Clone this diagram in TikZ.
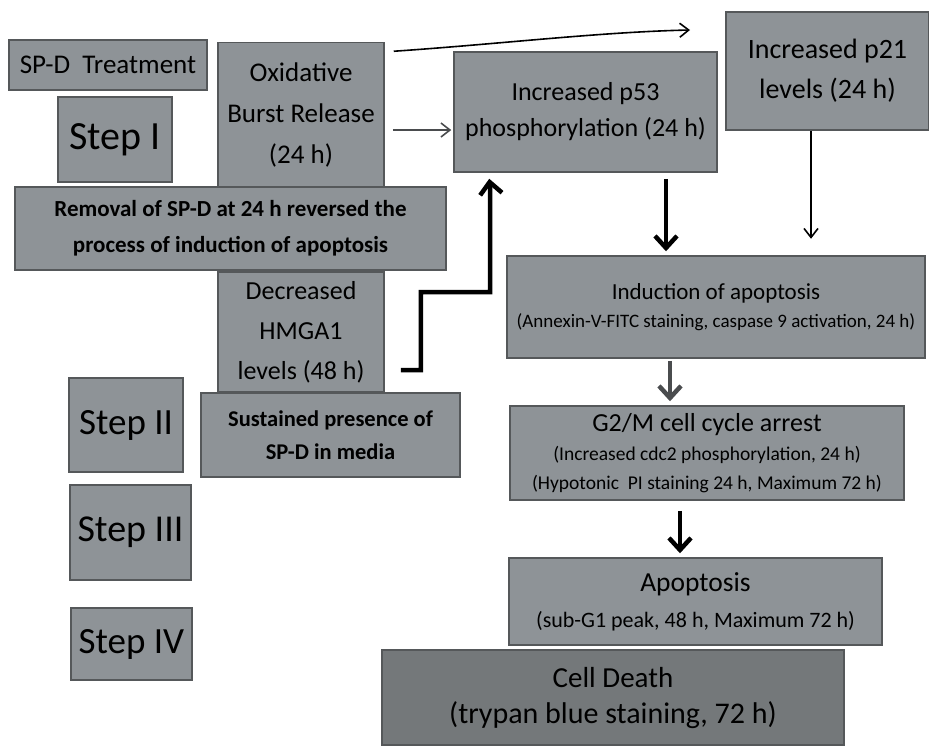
\documentclass[tikz,border=0pt]{standalone}
\usepackage{fontspec}
\setmainfont{Carlito}
\usetikzlibrary{arrows.meta,calc}
\definecolor{boxfill}{HTML}{8E9397}
\definecolor{boxdark}{HTML}{74787A}
\definecolor{edge}{HTML}{55585A}
\definecolor{arrgray}{HTML}{4A4C4E}
\tikzset{
  box/.style={draw=edge, line width=1.5pt, fill=boxfill, inner sep=2pt, align=center, text=black},
  darkbox/.style={box, fill=boxdark},
  thinarr/.style={line width=1.6pt, -{Straight Barb[length=9pt,width=14pt,line width=1.6pt]}},
  thickarr/.style={line width=4.5pt, -{Straight Barb[length=12pt,width=22pt,line width=4.5pt]}},
}
\newcommand{\fs}[2]{\fontsize{#1}{#2}\selectfont}
\begin{document}
\begin{tikzpicture}[x=1pt,y=-1pt]
\useasboundingbox (0,0) rectangle (929,745);
\fill[white] (0,0) rectangle (929,745);

% left column
\node[box, minimum width=198pt, minimum height=50pt, font=\fs{27}{32}] (spd) at (108,65) {SP-D\ \ Treatment};
\node[box, minimum width=114pt, minimum height=85pt, font=\fs{40}{46}] (step1) at (115,139.5) {Step I};
\node[box, minimum width=166pt, minimum height=145pt, font=\fs{27}{41}] (oxid) at (301,115) {Oxidative\\Burst Release\\(24 h)};
\node[box, minimum width=431pt, minimum height=83pt, font=\fs{23}{36}\bfseries] (removal) at (230.5,228.5) {Removal of SP-D at 24 h reversed the\\process of induction of apoptosis};
\node[box, minimum width=166pt, minimum height=120pt, font=\fs{26}{40}] (hmga) at (301,332) {Decreased\\HMGA1\\levels (48 h)};
\node[box, minimum width=114pt, minimum height=94pt, font=\fs{37}{43}] (step2) at (126,425) {Step II};
\node[box, minimum width=259pt, minimum height=84pt, font=\fs{22.5}{33}\bfseries] (sust) at (330.5,435) {Sustained presence of\\SP-D in media};
\node[box, minimum width=121pt, minimum height=95pt, font=\fs{38}{44}] (step3) at (130.5,532.5) {Step III};
\node[box, minimum width=121pt, minimum height=72pt, font=\fs{37}{43}] (step4) at (131.5,644) {Step IV};

% right column
\node[box, minimum width=263pt, minimum height=120pt, font=\fs{26}{36}] (p53) at (585.5,112) {Increased p53\\phosphorylation (24 h)};
\node[box, minimum width=203pt, minimum height=118pt, font=\fs{28}{40}] (p21) at (827.5,71) {Increased p21\\levels (24 h)};
\node[box, minimum width=418pt, minimum height=102pt, font=\fs{23}{28}] (ind) at (716,307) {Induction of apoptosis\\ \fs{19}{24}(Annexin-V-FITC staining, caspase 9 activation, 24 h)};
\node[box, minimum width=394pt, minimum height=94pt, font=\fs{26}{29}] (g2m) at (707,453) {G2/M cell cycle arrest\\ \fs{19.5}{22}(Increased cdc2 phosphorylation, 24 h)\\ \fs{19.5}{22}(Hypotonic\ \ PI staining 24 h, Maximum 72 h)};
\node[box, minimum width=373pt, minimum height=87pt, font=\fs{27.5}{36}] (apop) at (695.5,601.5) {Apoptosis\\ \fs{22}{31}(sub-G1 peak, 48 h, Maximum 72 h)};
\node[darkbox, minimum width=462pt, minimum height=95pt, font=\fs{29}{36}] (cd) at (613,697.5) {Cell Death\\ \fs{30}{36}(trypan blue staining, 72 h)};

% connectors
\coordinate (topend) at (690,30);
\draw[thinarr] ($(oxid.north east)+(9,9.5)$) .. controls (500,44) and (600,32) .. (topend);
\draw[thinarr, draw=arrgray] ($(oxid.east)+(8,15)$) -- ($(p53.west)+(-2,18)$);
\draw[thickarr, line join=miter] ($(hmga.east)+(16,38)$) -- ++(20,0) |- (490,292) -- (490,185) -- ($(p53.south west)+(36,6)$);
\draw[thickarr] ($(p53.south)+(80.5,6)$) -- ($(ind.north)+(-50,-4)$);
\draw[thinarr] ($(p21.south)+(-16.5,0)$) -- ($(p21.south)+(-16.5,108)$);
\draw[thickarr, draw=arrgray, line width=4pt] ($(ind.south)+(-46,2)$) -- ($(g2m.north)+(-37,-4)$);
\draw[thickarr, line width=4pt] ($(g2m.south)+(-27,10)$) -- ($(apop.north)+(-15.5,-4)$);
\end{tikzpicture}
\end{document}
